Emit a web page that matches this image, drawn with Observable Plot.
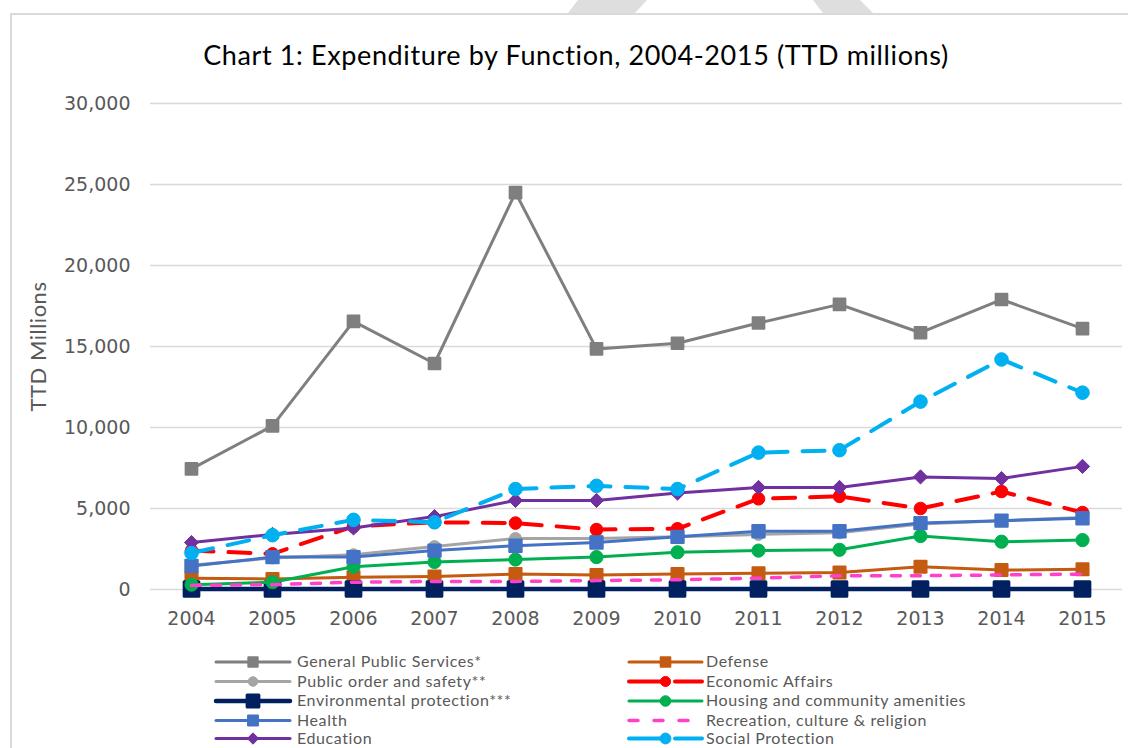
<!DOCTYPE html>
<html>
<head>
<meta charset="utf-8">
<script src="https://cdn.jsdelivr.net/npm/d3@7"></script>
<script src="https://cdn.jsdelivr.net/npm/@observablehq/plot@0.6"></script>
<style>
  html, body { margin: 0; padding: 0; background: #fff; }
  #wrap { position: relative; width: 1128px; height: 748px; overflow: hidden; background: #fff; }
  #frame { position: absolute; left: 10px; top: 13px; width: 1300px; height: 900px; border-left: 2px solid #d9d9d9; border-top: 2px solid #d9d9d9; }
  #title { position: absolute; left: 0; width: 1152px; top: 36px; text-align: center; font-family: Lato, "Open Sans", sans-serif; font-size: 27px; letter-spacing: 0.62px; color: #000; line-height: 38px; }
  #chart { position: absolute; left: 0; top: 80px; }
  #legend { position: absolute; left: 0; top: 0; width: 1128px; height: 748px; pointer-events: none; }
  .lg-text { position: absolute; font-family: Lato, "Open Sans", sans-serif; font-size: 16px; letter-spacing: 0.6px; color: #595959; line-height: 20px; white-space: nowrap; }
  .ylab text { letter-spacing: 0.5px; }
</style>
</head>
<body>
<div id="wrap">
  <svg id="wm" width="1128" height="14" style="position:absolute;left:0;top:0">
    <polygon points="578,0 647,0 635,13 568,13" fill="#dedede"></polygon>
    <polygon points="813,0 860,0 873,13 823,13" fill="#dedede"></polygon>
  </svg>
  <div id="frame"></div>
  <div id="title">Chart 1: Expenditure by Function, 2004-2015 (TTD millions)</div>
  <div id="chart"></div>
  <div id="legend"></div>
</div>
<script>
// ---- Data (TTD millions) ----
const years = [2004, 2005, 2006, 2007, 2008, 2009, 2010, 2011, 2012, 2013, 2014, 2015];
const yTicks = [0, 5000, 10000, 15000, 20000, 25000, 30000];

const generalPublicServices = [7450, 10100, 16550, 13950, 24500, 14850, 15200, 16450, 17600, 15850, 17900, 16100];
const defense               = [700, 650, 750, 800, 950, 900, 950, 1000, 1050, 1400, 1200, 1250];
const publicOrderSafety     = [1500, 1950, 2150, 2650, 3150, 3150, 3250, 3400, 3500, 4050, 4250, 4450];
const economicAffairs       = [2400, 2200, 3900, 4150, 4100, 3700, 3750, 5600, 5750, 5000, 6050, 4750];
const environmental         = [30, 30, 30, 30, 30, 30, 30, 30, 30, 30, 30, 30];
const housing               = [300, 450, 1400, 1700, 1850, 2000, 2300, 2400, 2450, 3300, 2950, 3050];
const health                = [1450, 2000, 2000, 2400, 2700, 2900, 3250, 3600, 3600, 4100, 4250, 4400];
const recreation            = [250, 300, 450, 500, 500, 550, 600, 700, 850, 850, 900, 950];
const education             = [2900, 3400, 3800, 4500, 5500, 5500, 5950, 6300, 6300, 6950, 6850, 7600];
const socialProtection      = [2250, 3350, 4300, 4150, 6200, 6400, 6200, 8450, 8600, 11600, 14200, 12150];

const seriesNames = [
  "General Public Services*", "Defense", "Public order and safety**", "Economic Affairs",
  "Environmental protection***", "Housing and community amenities", "Health",
  "Recreation, culture & religion", "Education", "Social Protection"
];
const seriesValues = [
  generalPublicServices, defense, publicOrderSafety, economicAffairs, environmental,
  housing, health, recreation, education, socialProtection
];

// ---- Styles ----
const styles = [
  {color: "#7f7f7f", width: 3, dash: null, symbol: "square", r: 6.6, sw: 2},
  {color: "#c55a11", width: 3, dash: null, symbol: "square", r: 6.8, sw: 2},
  {color: "#a5a5a5", width: 3, dash: null, symbol: "circle", r: 6, sw: 1},
  {color: "#ff0000", width: 4, dash: "22,15", symbol: "circle", r: 6.3, sw: 1},
  {color: "#002060", width: 4.5, dash: null, symbol: "square", r: 8.3, sw: 3},
  {color: "#00b050", width: 3, dash: null, symbol: "circle", r: 6.6, sw: 1},
  {color: "#4472c4", width: 3, dash: null, symbol: "square", r: 7, sw: 2},
  {color: "#ff40c8", width: 3.5, dash: "9,11", symbol: null},
  {color: "#7030a0", width: 3, dash: null, symbol: "diamond2", r: 6.4, sw: 1},
  {color: "#00b0f0", width: 4, dash: "22,15", symbol: "circle", r: 6.8, sw: 1}
];

const tables = seriesValues.map((vals, i) => years.map((yr, j) => ({year: yr, value: vals[j], series: seriesNames[i]})));

const marks = [
  Plot.ruleY(yTicks, {stroke: "#d9d9d9", strokeWidth: 1.3}),
  Plot.axisY(yTicks, {tickSize: 0, tickPadding: 20, tickFormat: d3.format(","), label: null,
    fontFamily: "DejaVu Sans", fontSize: 19, fill: "#595959"}),
  Plot.axisX(years, {tickSize: 0, tickPadding: 22, tickFormat: d => String(d), label: null,
    fontFamily: "DejaVu Sans", fontSize: 19, fill: "#595959"}),
  Plot.text(["TTD Millions"], {frameAnchor: "left", rotate: -90, dx: -112, text: d => d,
    textAnchor: "middle", lineAnchor: "middle", className: "ylab",
    fontFamily: "Lato", fontSize: 22, fill: "#595959"})
];

tables.forEach((t, i) => {
  const s = styles[i];
  marks.push(Plot.line(t, {x: "year", y: "value", stroke: s.color, strokeWidth: s.width,
    strokeDasharray: s.dash || undefined, strokeLinecap: s.dash ? "round" : "butt", strokeLinejoin: "round"}));
  if (s.symbol) {
    marks.push(Plot.dot(t, {x: "year", y: "value", symbol: s.symbol, r: s.r, fill: s.color,
      stroke: s.color, strokeWidth: s.sw, strokeLinejoin: "round"}));
  }
});

const chart = Plot.plot({
  width: 1128, height: 560,
  marginLeft: 150, marginRight: 6, marginTop: 23, marginBottom: 51,
  x: {type: "point", domain: years, padding: 0.5, axis: null},
  y: {domain: [0, 30000], axis: null},
  style: {background: "transparent", overflow: "visible"},
  marks
});
document.getElementById("chart").appendChild(chart);

// ---- Legend ----
const legend = d3.select("#legend");
const lsvg = legend.append("svg").attr("width", 1128).attr("height", 748)
  .style("position", "absolute").style("left", 0).style("top", 0);
const rowY = [662, 681.5, 701, 720.5, 738.5];
const colX = [{x0: 216, x1: 290, tx: 297}, {x0: 629, x1: 702, tx: 706}];
seriesNames.forEach((name, i) => {
  const s = styles[i];
  const col = colX[i % 2];
  const y = rowY[Math.floor(i / 2)];
  const g = lsvg.append("g");
  g.append("line").attr("x1", col.x0).attr("x2", col.x1).attr("y1", y).attr("y2", y)
    .attr("stroke", s.color).attr("stroke-width", s.width)
    .attr("stroke-linecap", "round")
    .attr("stroke-dasharray", s.dash ? (i === 7 ? "9,16" : "34,12") : null);
  if (s.symbol) {
    const sym = {square: d3.symbolSquare, circle: d3.symbolCircle, diamond2: d3.symbolDiamond2}[s.symbol];
    const rr = s.r * 0.8;
    g.append("path").attr("d", d3.symbol(sym, Math.PI * rr * rr)())
      .attr("transform", `translate(${(col.x0 + col.x1) / 2},${y})`)
      .attr("fill", s.color).attr("stroke", s.color).attr("stroke-width", s.sw)
      .attr("stroke-linejoin", "round");
  }
  legend.append("div").attr("class", "lg-text")
    .style("left", col.tx + "px").style("top", (y - 11) + "px").text(name);
});
</script>
</body>
</html>
